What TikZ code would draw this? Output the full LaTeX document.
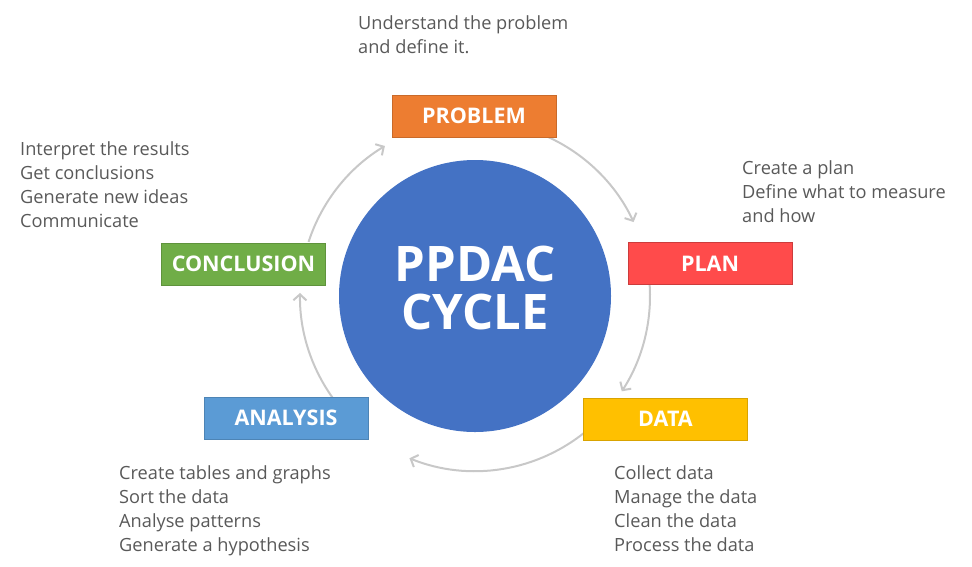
\documentclass[tikz,border=0pt]{standalone}
\usepackage{fontspec}
\setmainfont{Open Sans}
\usepackage{tikz}
\usetikzlibrary{arrows.meta,backgrounds}
\definecolor{probleorange}{HTML}{ED7D31}
\definecolor{planred}{HTML}{FF4B4B}
\definecolor{datagold}{HTML}{FFC000}
\definecolor{analysisblue}{HTML}{5B9BD5}
\definecolor{conclgreen}{HTML}{70AD47}
\definecolor{cycleblue}{HTML}{4472C4}
\definecolor{arcgray}{HTML}{C8C8C8}
\definecolor{notegray}{HTML}{595959}

\begin{document}
\begin{tikzpicture}[
  x=1pt, y=1pt,
  stagebox/.style={
    rectangle,
    line width=1pt,
    minimum width=164pt,
    minimum height=42pt,
    inner sep=0pt,
    text=white,
    font=\fontsize{21.5}{24}\selectfont\bfseries
  },
  notetext/.style={
    anchor=north west,
    align=left,
    inner sep=0pt,
    text=notegray,
    font=\fontsize{18.2}{24.3}\selectfont
  },
  cyclearrow/.style={
    draw=arcgray,
    line width=2pt,
    -{Straight Barb[length=6pt,width=13pt]}
  }
]
  \useasboundingbox (0,0) rectangle (972,-566);

  % --- central circle ---
  \node[circle, fill=cycleblue, minimum size=272pt, inner sep=0pt,
        text=white, align=center, text depth=17pt,
        font=\fontsize{49}{48}\selectfont\bfseries] (ppdac) at (475,-296) {PPDAC\\CYCLE};

  % --- the five stages ---
  \node[stagebox, fill=probleorange, draw=probleorange!85!black] (problem) at (474,-116) {PROBLEM};
  \node[stagebox, fill=planred, draw=planred!80!black] (plan) at (710,-263.5) {PLAN};
  \node[stagebox, fill=datagold, draw=datagold!85!black] (data) at (665.5,-419) {DATA};
  \node[stagebox, fill=analysisblue, draw=analysisblue!85!black] (analysis) at (286,-418) {ANALYSIS};
  \node[stagebox, fill=conclgreen, draw=conclgreen!85!black] (conclusion) at (243.5,-264) {CONCLUSION};

  % --- notes next to each stage ---
  \node[notetext] (problemnote) at (358,-15) {Understand the problem\\and define it.};
  \node[notetext] (plannote) at (742,-160) {Create a plan\\Define what to measure\\and how};
  \node[notetext] (conclnote) at (20,-141) {Interpret the results\\Get conclusions\\Generate new ideas\\Communicate};
  \node[notetext] (analysisnote) at (119,-465) {Create tables and graphs\\Sort the data\\Analyse patterns\\Generate a hypothesis};
  \node[notetext] (datanote) at (614,-465) {Collect data\\Manage the data\\Clean the data\\Process the data};

  % --- arrows round the cycle ---
  \begin{scope}[on background layer]
    \draw[cyclearrow] ([shift={(66:175)}]ppdac.center) arc[start angle=66, end angle=25, radius=175];
    \draw[cyclearrow] ([shift={(4:175)}]ppdac.center) arc[start angle=4, end angle=-33, radius=175];
    \draw[cyclearrow] ([shift={(-50:175)}]ppdac.center) arc[start angle=-50, end angle=-112, radius=175];
    \draw[cyclearrow] ([shift={(-143:175)}]ppdac.center) arc[start angle=-143, end angle=-181, radius=175];
    \draw[cyclearrow] ([shift={(162:175)}]ppdac.center) arc[start angle=162, end angle=121, radius=175];
  \end{scope}

\end{tikzpicture}
\end{document}
